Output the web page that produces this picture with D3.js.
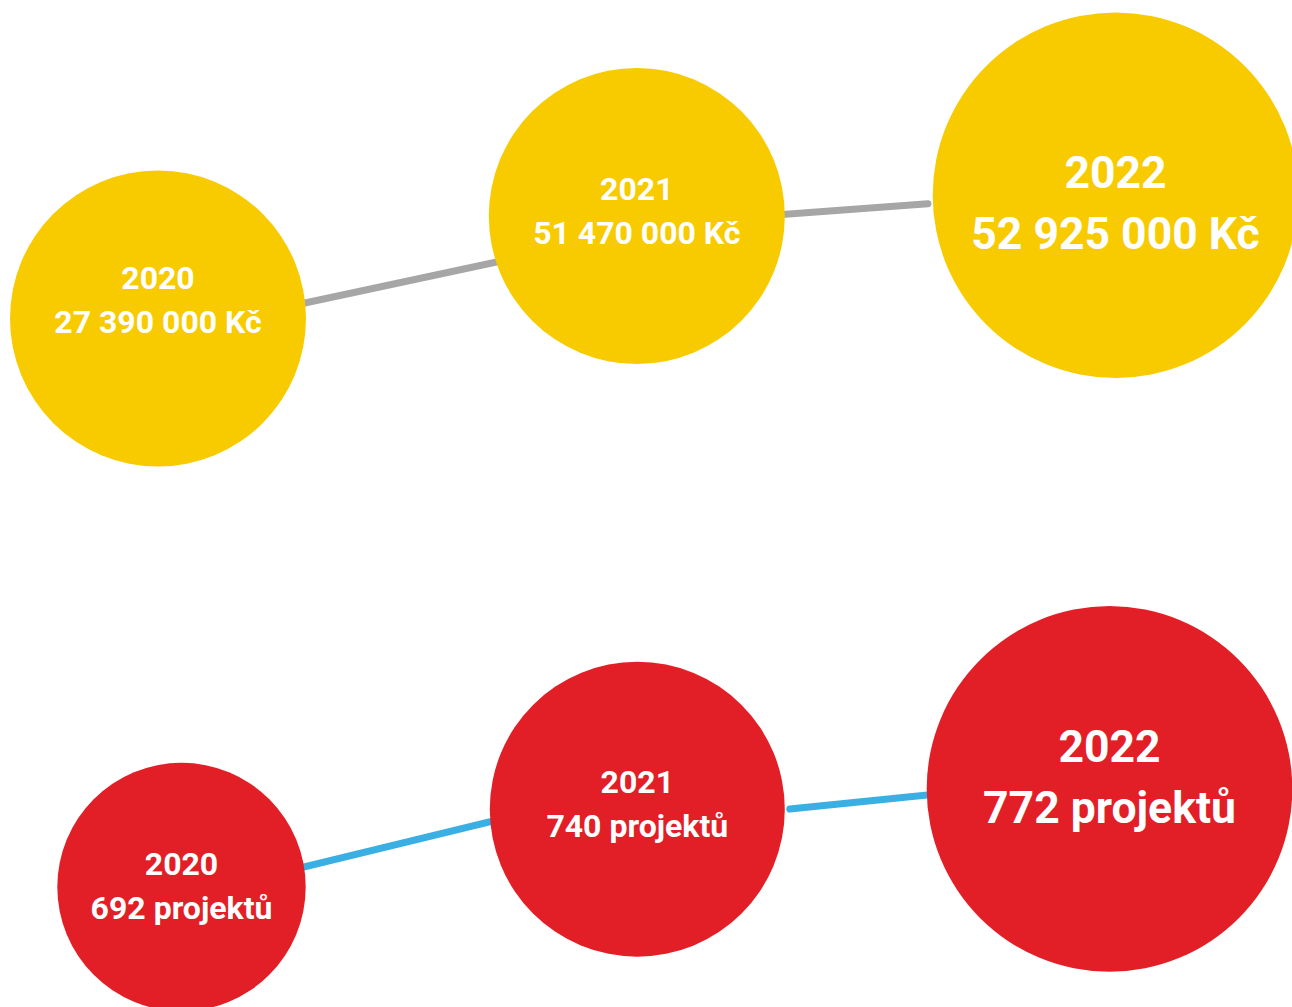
<!DOCTYPE html>
<html>
<head>
  <meta charset="utf-8">
  <title>Grantové výzvy 2020–2022</title>
  <script src="https://cdn.jsdelivr.net/npm/d3@7"></script>
  <style>
    body { margin: 0; background: #ffffff; }
    svg text { font-family: Roboto, "Noto Sans", sans-serif; font-weight: 700; fill: #ffffff; }
  </style>
</head>
<body>
  <div id="chart"></div>
  <script>
    // data
    var years = [2020, 2021, 2022];
    var budget = [27390000, 51470000, 52925000];   // Kč
    var projects = [692, 740, 772];                  // počet projektů

    var cz = d3.formatLocale({ decimal: ",", thousands: " ", grouping: [3], currency: ["", " Kč"] });
    var fmtKc = cz.format("$,.0f");
    var fmtProj = function (v) { return v + " projektů"; };

    const width = 1292, height = 1007;

    var svg = d3.select("#chart")
      .append("svg")
      .attr("width", width)
      .attr("height", height);

    // layout of each row (the picture is a hand-made infographic, so scales are piecewise)
    // links: offset of the connector at each circle centre, and whether that end stops short of the circle
    var rows = [
      {
        values: budget, fmt: fmtKc, fill: "#f8cb00", stroke: "#a6a6a6",
        x: d3.scaleLinear().domain(years).range([158, 636.8, 1115.5]),
        y: d3.scaleLinear().domain(budget).range([318.5, 216, 195.2]),
        r: d3.scaleLinear().domain(budget).range([148, 148, 182.8]),
        label: d3.scaleLinear().domain(budget).range([289, 200, 187.7]),
        links: [{ dy: [16, 16], cut: [false, false] }, { dy: [9, -5], cut: [false, true] }]
      },
      {
        values: projects, fmt: fmtProj, fill: "#e21f26", stroke: "#3aafe4",
        x: d3.scaleLinear().domain(years).range([181.5, 637.3, 1109.5]),
        y: d3.scaleLinear().domain(projects).range([887, 809.2, 788.9]),
        r: d3.scaleLinear().domain(projects).range([124.2, 147.5, 182.8]),
        label: d3.scaleLinear().domain(projects).range([875, 793.3, 761.7]),
        links: [{ dy: [9.7, -23.3], cut: [false, false] }, { dy: [15.5, -12.6], cut: [true, false] }]
      }
    ];

    var fontSize = d3.scaleThreshold().domain([170]).range([32, 44.5]);
    var gap = 5;

    // point where the segment p0-p1 crosses a circle
    function trim(p0, p1, c, r, fromStart) {
      var dx = p1[0] - p0[0], dy = p1[1] - p0[1];
      var fx = p0[0] - c[0], fy = p0[1] - c[1];
      var a = dx * dx + dy * dy, b = 2 * (fx * dx + fy * dy), cc = fx * fx + fy * fy - r * r;
      var disc = Math.sqrt(Math.max(0, b * b - 4 * a * cc));
      var t = fromStart ? (-b + disc) / (2 * a) : (-b - disc) / (2 * a);
      return [p0[0] + t * dx, p0[1] + t * dy];
    }

    rows.forEach(function (row) {
      var nodes = years.map(function (yr, i) {
        var v = row.values[i];
        return { year: yr, value: v, cx: row.x(yr), cy: row.y(v), r: row.r(v), ly: row.label(v) };
      });

      // connectors
      var segs = d3.pairs(nodes).map(function (p, i) {
        var a = p[0], b = p[1], link = row.links[i];
        var pa = [a.cx, a.cy + link.dy[0]], pb = [b.cx, b.cy + link.dy[1]];
        var s = link.cut[0] ? trim(pa, pb, [a.cx, a.cy], a.r + gap, true) : pa;
        var e = link.cut[1] ? trim(pa, pb, [b.cx, b.cy], b.r + gap, false) : pb;
        return [s, e];
      });

      svg.append("g")
        .selectAll("path")
        .data(segs)
        .join("path")
        .attr("d", d3.line())
        .attr("fill", "none")
        .attr("stroke", row.stroke)
        .attr("stroke-width", 7)
        .attr("stroke-linecap", "round");

      // bubbles
      var g = svg.append("g")
        .selectAll("g")
        .data(nodes)
        .join("g");

      g.append("circle")
        .attr("cx", function (d) { return d.cx; })
        .attr("cy", function (d) { return d.cy; })
        .attr("r", function (d) { return d.r; })
        .attr("fill", row.fill);

      var t = g.append("text")
        .attr("text-anchor", "middle")
        .style("font-size", function (d) { return fontSize(d.r) + "px"; });

      t.append("tspan")
        .attr("x", function (d) { return d.cx; })
        .attr("y", function (d) { return d.ly; })
        .text(function (d) { return d.year; });

      t.append("tspan")
        .attr("x", function (d) { return d.cx; })
        .attr("y", function (d) { return d.ly + fontSize(d.r) * 1.38; })
        .text(function (d) { return row.fmt(d.value); });
    });
  </script>
</body>
</html>
